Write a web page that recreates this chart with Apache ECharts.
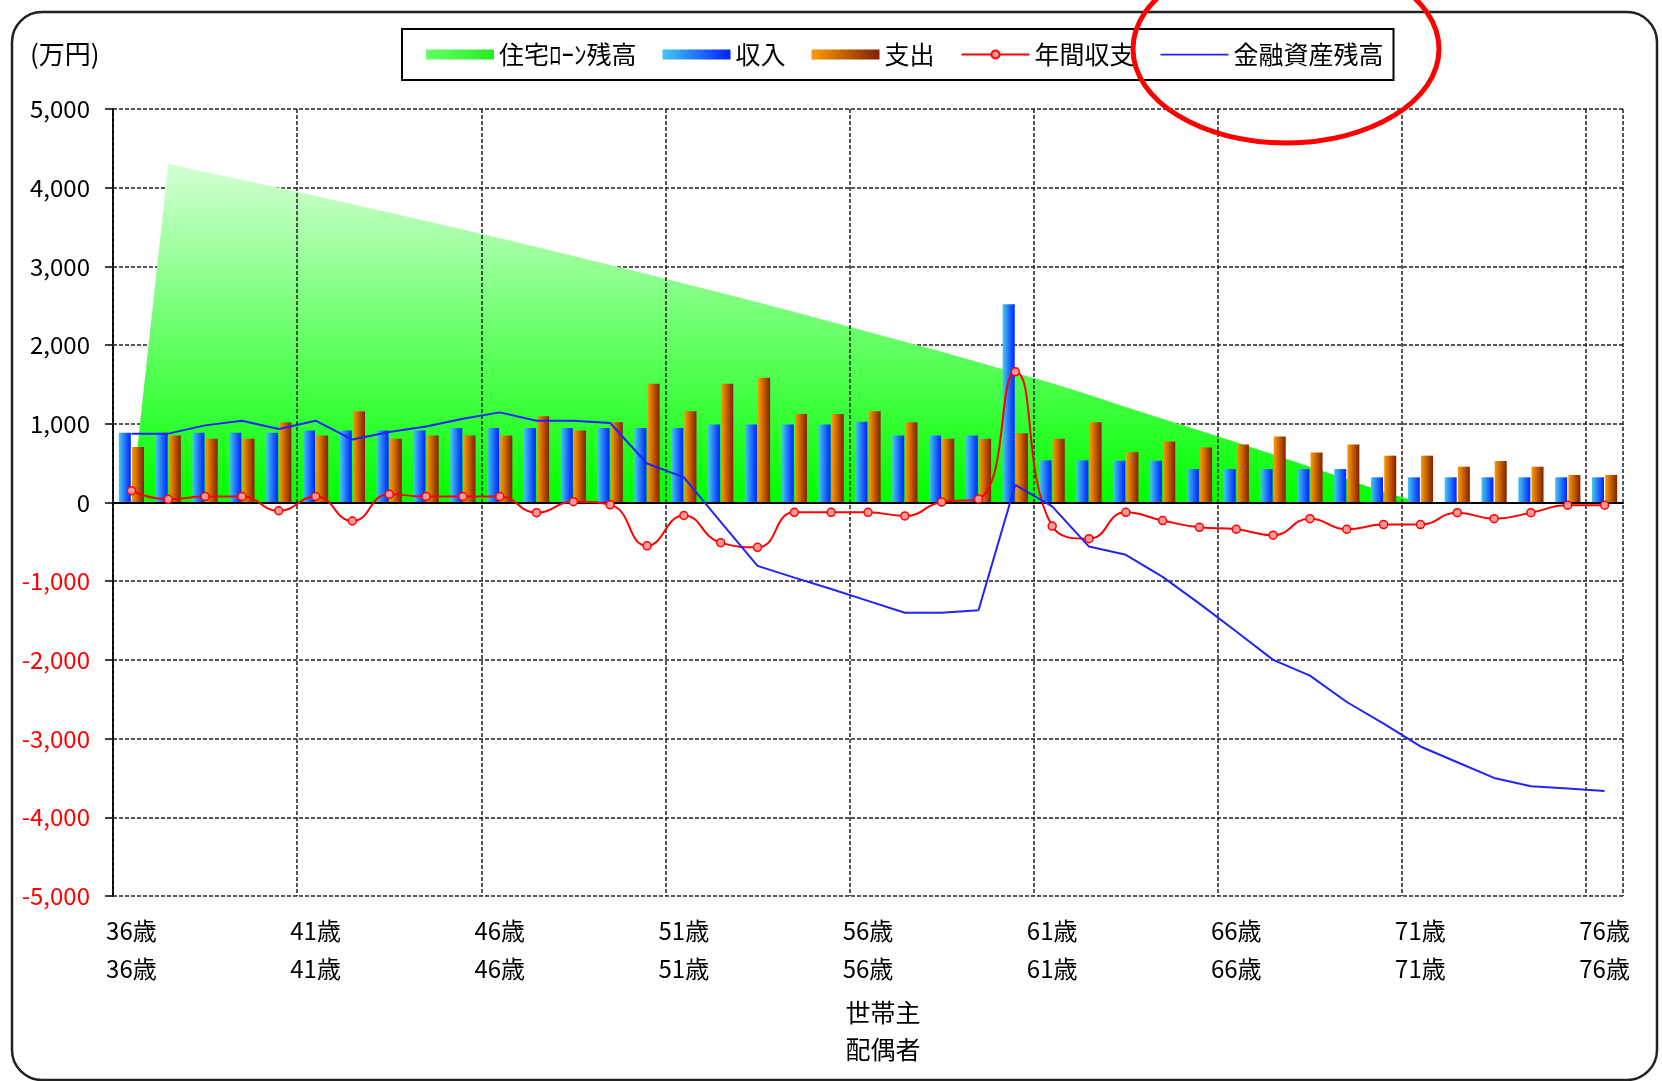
<!DOCTYPE html>
<html>
<head>
<meta charset="utf-8">
<script src="https://cdn.jsdelivr.net/npm/echarts@6/dist/echarts.min.js"></script>
<style>
  html, body { margin: 0; padding: 0; background: #fff; }
  #box { width: 1662px; height: 1081px; }
</style>
</head>
<body>
<div id="box"></div>
<script>
// 年齢（世帯主・配偶者）
var ages = ['36歳', '37歳', '38歳', '39歳', '40歳', '41歳', '42歳', '43歳', '44歳', '45歳',
    '46歳', '47歳', '48歳', '49歳', '50歳', '51歳', '52歳', '53歳', '54歳', '55歳',
    '56歳', '57歳', '58歳', '59歳', '60歳', '61歳', '62歳', '63歳', '64歳', '65歳',
    '66歳', '67歳', '68歳', '69歳', '70歳', '71歳', '72歳', '73歳', '74歳', '75歳', '76歳'];

// 住宅ローン残高（万円）
var loanBalance = [0, 4300, 4200, 4100, 3998, 3895, 3790, 3684, 3577, 3468,
    3358, 3246, 3133, 3018, 2902, 2784, 2665, 2544, 2421, 2297,
    2171, 2043, 1914, 1783, 1650, 1515, 1370, 1215, 1065, 915,
    765, 610, 455, 295, 135, 0, 0, 0, 0, 0, 0];

// 収入
var income = [885, 885, 885, 885, 885, 915, 915, 915, 915, 948,
    948, 948, 948, 948, 948, 948, 990, 990, 990, 990,
    1025, 850, 850, 850, 2520, 535, 535, 530, 530, 425,
    425, 425, 425, 425, 320, 320, 320, 320, 320, 320, 320];

// 支出
var expense = [705, 850, 810, 810, 1020, 850, 1160, 810, 850, 850,
    850, 1095, 915, 1020, 1510, 1160, 1510, 1585, 1125, 1125,
    1160, 1020, 810, 810, 880, 810, 1020, 640, 775, 700,
    737, 840, 635, 737, 595, 595, 455, 527, 455, 350, 350];

// 年間収支
var yearBalance = [150, 40, 75, 75, -105, 75, -235, 105, 75, 75,
    75, -130, 10, -30, -550, -165, -510, -570, -125, -125,
    -125, -170, 5, 45, 1660, -300, -460, -125, -230, -315,
    -340, -415, -205, -340, -280, -280, -130, -205, -130, -35, -35];

// 金融資産残高
var assets = [875, 875, 980, 1040, 935, 1040, 800, 895, 965, 1065,
    1145, 1040, 1040, 1010, 495, 320, -245, -805, -955, -1100,
    -1250, -1400, -1400, -1370, 225, -50, -560, -665, -945, -1285,
    -1640, -2000, -2200, -2535, -2810, -3100, -3300, -3500, -3605, -3635, -3665];

var font = 'Noto Sans CJK JP';

var greenFill = new echarts.graphic.LinearGradient(0, 0, 0, 1, [
    { offset: 0, color: '#d4ffd4' },
    { offset: 1, color: '#00ff00' }
]);
var greenIcon = new echarts.graphic.LinearGradient(0, 0, 1, 0, [
    { offset: 0, color: '#66ff66' },
    { offset: 1, color: '#22ee22' }
]);
var blueBar = new echarts.graphic.LinearGradient(0, 0, 1, 0, [
    { offset: 0, color: '#45c8f0' },
    { offset: 1, color: '#0022ff' }
]);
var orangeBar = new echarts.graphic.LinearGradient(0, 0, 1, 0, [
    { offset: 0, color: '#ff9900' },
    { offset: 1, color: '#802000' }
]);

// 凡例の線だけのアイコン（68x10の枠に細い線）
var lineIcon = 'path://M0,0h0.1v0.1h-0.1z M0,4.2h68v1.8h-68z M67.9,9.9h0.1v0.1h-0.1z';

function comma(v) {
    return String(v).replace(/\B(?=(\d{3})+(?!\d))/g, ',');
}

var myChart = echarts.init(document.getElementById('box'));
var option = {
    animation: false,
    backgroundColor: '#fff',
    textStyle: { fontFamily: font },
    grid: { left: 113, right: 39, top: 109, bottom: 185 },
    legend: {
        left: 402,
        top: 29,
        padding: [13, 10, 13, 24],
        itemGap: 26,
        itemWidth: 68,
        itemHeight: 10,
        borderColor: '#000',
        borderWidth: 2,
        backgroundColor: '#fff',
        textStyle: { fontSize: 25, color: '#000', fontFamily: font },
        data: [
            { name: '住宅ﾛｰﾝ残高', icon: 'rect', itemStyle: { color: greenIcon } },
            { name: '収入', icon: 'rect' },
            { name: '支出', icon: 'rect' },
            '年間収支',
            { name: '金融資産残高', icon: lineIcon, itemStyle: { color: '#2222ff' } }
        ]
    },
    xAxis: [
        {
            type: 'category',
            data: ages,
            position: 'bottom',
            z: 3,
            axisLine: { onZero: true, lineStyle: { color: '#000', width: 2 } },
            axisTick: { show: false },
            axisLabel: { show: false },
            splitLine: {
                show: true,
                interval: 4,
                lineStyle: { color: '#222', width: 1.5, type: [4, 2] }
            }
        },
        {
            type: 'category',
            data: ages,
            position: 'bottom',
            axisLine: { show: false, onZero: false },
            axisTick: { show: false },
            splitLine: { show: false },
            axisLabel: {
                interval: 4,
                fontSize: 24,
                lineHeight: 38,
                margin: 16,
                color: '#000',
                formatter: function (v) { return v + '\n' + v; }
            },
            name: '世帯主\n配偶者',
            nameLocation: 'middle',
            nameGap: 98,
            nameTextStyle: { fontSize: 25, lineHeight: 37, color: '#000', padding: [0, 0, 0, 30] }
        }
    ],
    yAxis: {
        type: 'value',
        min: -5000,
        max: 5000,
        interval: 1000,
        axisLine: { show: true, lineStyle: { color: '#000', width: 2 } },
        axisTick: { show: true, length: 8, lineStyle: { color: '#000', width: 1.5 } },
        axisLabel: {
            fontSize: 24,
            margin: 23,
            formatter: function (v) { return comma(v); },
            color: function (v) { return Number(v) < 0 ? '#ff0000' : '#000'; }
        },
        splitLine: { lineStyle: { color: '#222', width: 1.5, type: [4, 2] } }
    },
    series: [
        {
            name: '住宅ﾛｰﾝ残高',
            type: 'line',
            data: loanBalance,
            symbol: 'none',
            z: 1,
            lineStyle: { width: 0 },
            itemStyle: { color: '#33ff33' },
            areaStyle: { color: greenFill, opacity: 1 }
        },
        {
            name: '収入',
            type: 'bar',
            data: income,
            barWidth: 12,
            barGap: '10%',
            z: 2,
            itemStyle: { color: blueBar }
        },
        {
            name: '支出',
            type: 'bar',
            data: expense,
            barWidth: 12,
            barGap: '10%',
            z: 2,
            itemStyle: { color: orangeBar }
        },
        {
            name: '年間収支',
            type: 'line',
            data: yearBalance,
            smooth: true,
            symbol: 'circle',
            symbolSize: 8,
            z: 5,
            lineStyle: { color: '#ff0000', width: 2 },
            itemStyle: { color: '#ff9999', borderColor: '#ff0000', borderWidth: 1.5 }
        },
        {
            name: '金融資産残高',
            type: 'line',
            data: assets,
            symbol: 'none',
            z: 5,
            lineStyle: { color: '#2222ff', width: 2 },
            itemStyle: { color: '#2222ff' }
        }
    ],
    graphic: [
        {
            type: 'rect',
            silent: true,
            z: -10,
            shape: { x: 12, y: 12, width: 1645, height: 1068, r: 30 },
            style: { fill: 'none', stroke: '#222', lineWidth: 2.5 }
        },
        {
            type: 'text',
            left: 30,
            top: 41,
            style: { text: '(万円)', font: '26px "Noto Sans CJK JP"', fill: '#000' }
        },
        {
            type: 'ellipse',
            silent: true,
            z: 100,
            shape: { cx: 1286, cy: 49, rx: 153, ry: 94 },
            style: { fill: 'none', stroke: '#ff0000', lineWidth: 5 }
        }
    ]
};

option && myChart.setOption(option);
</script>
</body>
</html>
